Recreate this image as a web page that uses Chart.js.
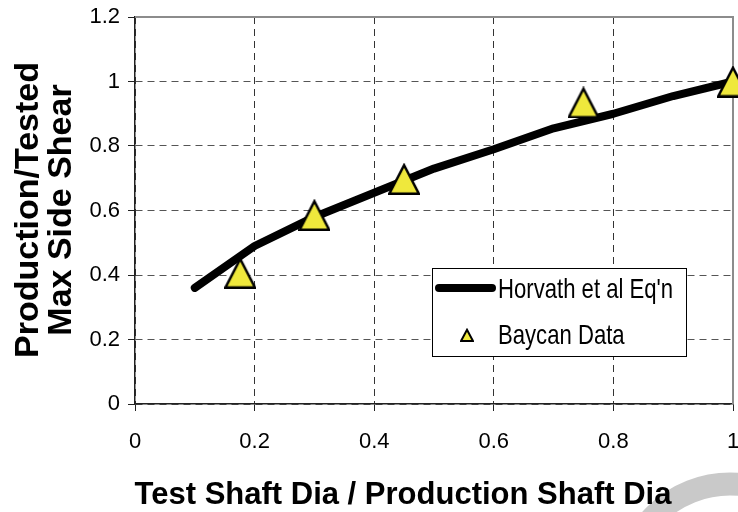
<!DOCTYPE html>
<html>
<head>
<meta charset="utf-8">
<script src="https://cdn.jsdelivr.net/npm/chart.js@4.4.1/dist/chart.umd.min.js"></script>
<style>
  html, body { margin: 0; padding: 0; background: #fff; }
  #wrap { width: 738px; height: 512px; position: relative; }
</style>
</head>
<body>
<div id="wrap"><canvas id="c"></canvas></div>
<script>
const eqnX = [0.1, 0.2, 0.3, 0.4, 0.5, 0.6, 0.7, 0.8, 0.9, 1.0];
const eqnY = [0.36, 0.49, 0.58, 0.655, 0.73, 0.79, 0.855, 0.90, 0.955, 1.0];
const dataX = [0.176, 0.30, 0.45, 0.75, 1.0];
const dataY = [0.407, 0.586, 0.698, 0.935, 1.0];
const xTicks = [0, 0.2, 0.4, 0.6, 0.8, 1];
const yTicks = [0, 0.2, 0.4, 0.6, 0.8, 1, 1.2];
const seriesNames = ["Horvath et al Eq'n", "Baycan Data"];
const xTitle = "Test Shaft Dia / Production Shaft Dia";
const yTitle = ["Production/Tested", "Max Side Shear"];

const FONT = '"Liberation Sans", Arial, sans-serif';
const YELLOW = "#efe83c";

// isosceles marker, a bit taller than Chart.js' built-in triangle
function triangleSprite(size, lw) {
  const c = document.createElement("canvas");
  c.width = size; c.height = size;
  const g = c.getContext("2d");
  g.beginPath();
  g.moveTo(size / 2, lw * 0.9);
  g.lineTo(size - lw / 2, size - lw / 2);
  g.lineTo(lw / 2, size - lw / 2);
  g.closePath();
  g.fillStyle = YELLOW;
  g.fill();
  g.lineWidth = lw;
  g.lineJoin = "miter";
  g.strokeStyle = "#000";
  g.stroke();
  return c;
}
const marker = triangleSprite(32, 2.5);
const legendMarker = triangleSprite(14, 2);

const fmt = (v) => String(+Number(v).toFixed(1));

// faint grey ring in the lower right corner of the scan
const ring = {
  id: "ring",
  beforeDraw(chart) {
    const { ctx } = chart;
    ctx.save();
    ctx.strokeStyle = "#c9c9c9";
    ctx.lineWidth = 23;
    ctx.beginPath();
    ctx.arc(730, 590, 106, 0, Math.PI * 2);
    ctx.stroke();
    ctx.restore();
  },
};

// top/right frame is a lighter grey than the axes
const frame = {
  id: "frame",
  beforeDatasetsDraw(chart) {
    const { ctx, chartArea: a } = chart;
    ctx.save();
    ctx.strokeStyle = "#8c8c8c";
    ctx.lineWidth = 2;
    ctx.beginPath();
    ctx.moveTo(a.left, a.top);
    ctx.lineTo(a.right, a.top);
    ctx.lineTo(a.right, a.bottom);
    ctx.stroke();
    ctx.restore();
  },
};

const titles = {
  id: "titles",
  afterDraw(chart) {
    const { ctx } = chart;
    ctx.save();
    ctx.fillStyle = "#000";
    ctx.textAlign = "center";
    ctx.textBaseline = "middle";
    ctx.font = "bold 31px " + FONT;
    ctx.fillText(xTitle, 403, 495);
    ctx.font = "bold 34px " + FONT;
    ctx.translate(0, 210);
    ctx.rotate(-Math.PI / 2);
    ctx.fillText(yTitle[0], 0, 29);
    ctx.fillText(yTitle[1], 0, 62);
    ctx.restore();
  },
};

const legendBox = {
  id: "legendBox",
  afterDraw(chart) {
    const { ctx } = chart;
    const x = 432, y = 268, w = 255, h = 89;
    ctx.save();
    ctx.fillStyle = "#fff";
    ctx.fillRect(x, y, w, h);
    ctx.strokeStyle = "#000";
    ctx.lineWidth = 1;
    ctx.strokeRect(x + 0.5, y + 0.5, w - 1, h - 1);

    ctx.strokeStyle = "#000";
    ctx.lineWidth = 8;
    ctx.lineCap = "round";
    ctx.beginPath();
    ctx.moveTo(x + 7, y + 20);
    ctx.lineTo(x + 60, y + 20);
    ctx.stroke();

    ctx.drawImage(legendMarker, x + 28, y + 60);

    ctx.fillStyle = "#000";
    ctx.font = "28px " + FONT;
    ctx.textBaseline = "middle";
    ctx.translate(x + 66, 0);
    ctx.scale(0.79, 1);
    ctx.fillText(seriesNames[0], 0, y + 22);
    ctx.fillText(seriesNames[1], 0, y + 68);
    ctx.restore();
  },
};

new Chart(document.getElementById("c"), {
  data: {
    datasets: [
      {
        type: "scatter",
        label: seriesNames[1],
        data: dataX.map((x, i) => ({ x, y: dataY[i] })),
        pointStyle: marker,
        pointRadius: 16,
        clip: false,
        order: 1,
      },
      {
        type: "line",
        label: seriesNames[0],
        data: eqnX.map((x, i) => ({ x, y: eqnY[i] })),
        borderColor: "#000",
        borderWidth: 8,
        borderCapStyle: "round",
        borderJoinStyle: "round",
        pointRadius: 0,
        tension: 0,
        fill: false,
        clip: false,
        order: 2,
      },
    ],
  },
  options: {
    responsive: true,
    maintainAspectRatio: false,
    animation: false,
    events: [],
    layout: { autoPadding: false, padding: { left: 0, right: 5, top: 17, bottom: 0 } },
    plugins: { legend: { display: false }, tooltip: { enabled: false } },
    scales: {
      x: {
        type: "linear",
        min: 0,
        max: 1,
        afterBuildTicks: (s) => { s.ticks = xTicks.map((v) => ({ value: v })); },
        afterFit: (s) => { s.height = 108; s.paddingLeft = 0; s.paddingRight = 0; },
        ticks: { font: { family: FONT, size: 22 }, color: "#000", padding: 18, callback: fmt, maxRotation: 0 },
        grid: { color: "#333", lineWidth: 1, tickLength: 7, tickColor: "#222", tickBorderDash: [] },
        border: { color: "#222", width: 1.5, dash: [7, 5] },
      },
      y: {
        type: "linear",
        min: 0,
        max: 1.2,
        afterBuildTicks: (s) => { s.ticks = yTicks.map((v) => ({ value: v })); },
        afterFit: (s) => { s.width = 135; s.paddingTop = 0; s.paddingBottom = 0; },
        ticks: { font: { family: FONT, size: 22 }, color: "#000", padding: 8, callback: fmt },
        grid: { color: "#555", lineWidth: 1, tickLength: 7, tickColor: "#222", tickBorderDash: [] },
        border: { color: "#222", width: 1.5, dash: [7, 5] },
      },
    },
  },
  plugins: [ring, frame, legendBox, titles],
});
</script>
</body>
</html>
